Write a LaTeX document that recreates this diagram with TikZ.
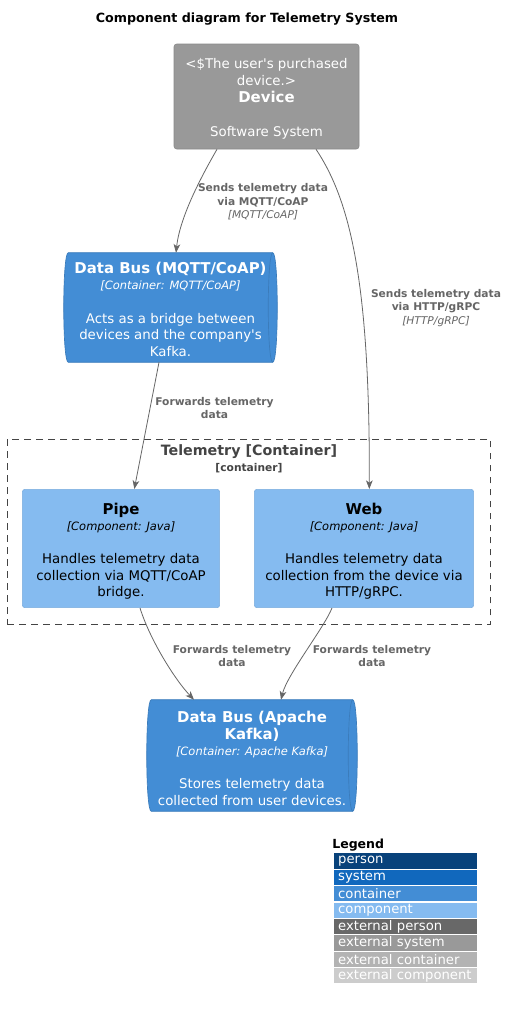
\documentclass[tikz,border=0pt]{standalone}
\usepackage{fontspec}
\setmainfont{DejaVu Sans}
\usepackage{tikz}
\usetikzlibrary{arrows.meta,calc,backgrounds}

\definecolor{c4person}{HTML}{08427B}
\definecolor{c4system}{HTML}{1168BD}
\definecolor{c4container}{HTML}{438DD5}
\definecolor{c4component}{HTML}{85BBF0}
\definecolor{c4extperson}{HTML}{686868}
\definecolor{c4extsystem}{HTML}{999999}
\definecolor{c4extcontainer}{HTML}{B3B3B3}
\definecolor{c4extcomponent}{HTML}{CCCCCC}
\definecolor{relgray}{HTML}{666666}
\definecolor{boundgray}{HTML}{444444}

\tikzset{
  desc/.style={align=center, inner sep=0pt, font=\fontsize{10}{12.4}\selectfont},
  extbox/.style={desc, rectangle, rounded corners=2pt, fill=c4extsystem, draw=c4extsystem!90!black, text=white},
  dbbox/.style={desc, rectangle, text=white},
  dbedge/.style={fill=c4container, draw=c4container!88!black, line width=0.5pt},
  compbox/.style={desc, rectangle, rounded corners=2pt, fill=c4component, draw=c4component!92!black, text=black},
  boundary/.style={rectangle, draw=boundgray, dash pattern=on 5pt off 4pt, line width=0.6pt},
  rel/.style={draw=relgray, line width=0.6pt, -{Stealth[length=6.5pt,width=5pt,inset=1.8pt]}},
  rellabel/.style={align=center, inner sep=0pt, text=relgray, font=\bfseries\fontsize{8}{10.2}\selectfont},
  legendrow/.style={anchor=west, text width=100.5pt, inner xsep=3.5pt, inner ysep=0pt, minimum height=11.5pt, align=left, text=white, font=\fontsize{9.9}{11}\selectfont},
}
\newcommand{\ttl}[1]{{\bfseries\fontsize{11.2}{12.4}\selectfont #1}}
\newcommand{\stereo}[1]{{\itshape\fontsize{8.6}{12.4}\selectfont #1}}
\newcommand{\topstrut}[1]{\rule{0pt}{#1}}

\begin{document}
\begin{tikzpicture}[x=0.75pt,y=0.75pt,yscale=-1,xscale=1]
\begin{scope}[on background layer]
\fill[white] (0,0) rectangle (507,1010);
\end{scope}
\useasboundingbox (0,0) rectangle (507,1010);

% Title
\node[font=\bfseries\fontsize{9.5}{11}\selectfont] (title) at (247,19.5) {Component diagram for Telemetry System};

% Boundary
\node[boundary, minimum width=362.5pt, minimum height=138.75pt] (telemetry) at (249,531.5) {};
\node[anchor=north, align=center, inner sep=0pt, text=boundgray] (telemetrylbl) at ($(telemetry.north)+(0,6)$)
  {{\bfseries\fontsize{10.7}{12}\selectfont Telemetry [Container]}\\{\bfseries\fontsize{8}{12}\selectfont [container]}};

% Elements
\node[extbox, minimum width=138.75pt, minimum height=78.75pt, font=\fontsize{10}{12.75}\selectfont] (device) at (266.5,96.5)
  {\topstrut{10.6pt}<\$The user\textquotesingle s purchased\\device.>\\\ttl{Device}\\[12.75pt]Software System};
\node[dbbox, minimum width=153pt, minimum height=81.75pt] (mqtt) at (170.5,307.5)
  {\topstrut{11pt}\ttl{Data Bus (MQTT/CoAP)}\\\stereo{[Container: MQTT/CoAP]}\\[12.4pt]Acts as a bridge between\\devices and the company\textquotesingle s\\Kafka.};
\node[compbox, minimum width=148pt, minimum height=88.8pt] (pipe) at (121,548.5)
  {\topstrut{12.7pt}\ttl{Pipe}\\\stereo{[Component: Java]}\\[12.4pt]Handles telemetry data\\collection via MQTT/CoAP\\bridge.};
\node[compbox, minimum width=164.5pt, minimum height=88.8pt] (web) at (364,548.5)
  {\topstrut{12.7pt}\ttl{Web}\\\stereo{[Component: Java]}\\[12.4pt]Handles telemetry data\\collection from the device via\\HTTP/gRPC.};
\node[dbbox, minimum width=150.75pt, minimum height=83.25pt] (kafka) at (252,755.5)
  {\topstrut{13pt}\ttl{Data Bus (Apache}\\\ttl{Kafka)}\\\stereo{[Container: Apache Kafka]}\\[12.4pt]Stores telemetry data\\collected from user devices.};

% Queue outlines
\begin{scope}[on background layer]
\foreach \q in {mqtt,kafka}
  \filldraw[dbedge] (\q.north west) .. controls +(-6,0) and +(-6,0) .. (\q.south west) -- (\q.south east) .. controls +(6,0) and +(6,0) .. (\q.north east) -- cycle;
\end{scope}
\foreach \q in {mqtt,kafka}
  \draw[c4container!88!black, line width=0.5pt] (\q.north east) .. controls +(-6,0) and +(-6,0) .. (\q.south east);

% Relations
\draw[rel] ($(device.south)+(-49.5,0)$) .. controls +(-12,21) and +(4,-38) .. ($(mqtt.north)+(5.5,0)$);
\draw[rel] ($(device.south)+(49.5,0)$) .. controls +(34,51) and +(0.7,-208) .. ($(web.north)+(5.3,0)$);
\draw[rel] ($(mqtt.south)+(-11.5,0)$) -- ($(pipe.north)+(13.3,0)$);
\draw[rel] ($(pipe.south)+(19,0)$) .. controls +(10,32) and +(-19,-20) .. ($(kafka.north)+(-58,0)$);
\draw[rel] ($(web.south)+(-32,0)$) .. controls +(-8,20) and +(6,-25) .. ($(kafka.north)+(29,0)$);

\node[rellabel] (lblmqtt) at (263,202) {Sends telemetry data\\via MQTT/CoAP\\{\mdseries\itshape [MQTT/CoAP]}};
\node[rellabel] (lblhttp) at (436,308) {Sends telemetry data\\via HTTP/gRPC\\{\mdseries\itshape [HTTP/gRPC]}};
\node[rellabel] (lblfwd) at (214.5,408) {Forwards telemetry\\data};
\node[rellabel] (lblpipe) at (232,656) {Forwards telemetry\\data};
\node[rellabel] (lblweb) at (372,656) {Forwards telemetry\\data};

% Legend
\node[anchor=west, inner sep=0pt, font=\bfseries\fontsize{9.4}{11}\selectfont] (legend) at (332,845) {Legend};
\foreach \lbl/\col [count=\i from 0] in {person/c4person, system/c4system, container/c4container, component/c4component, external person/c4extperson, external system/c4extsystem, external container/c4extcontainer, external component/c4extcomponent}
  \node[legendrow, fill=\col] (leg\i) at (333.3,{861+\i*16.4}) {\mbox{\lbl}};
\end{tikzpicture}
\end{document}
